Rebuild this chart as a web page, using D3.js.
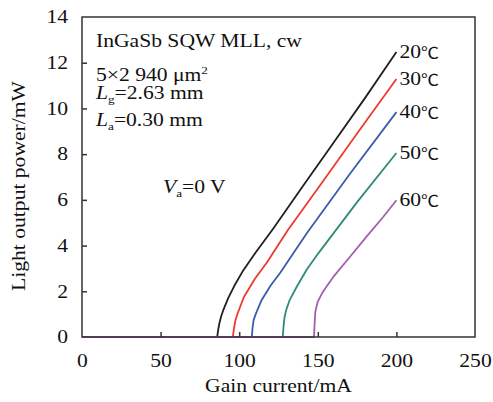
<!DOCTYPE html>
<html><head><meta charset="utf-8">
<script src="https://cdn.jsdelivr.net/npm/d3@7"></script>
<style>
body{margin:0;background:#fff}
text{font-family:"Liberation Serif","Times New Roman",serif;fill:#111}
</style></head>
<body><svg id="c" width="493" height="402"></svg>
<script>
const xTicks=[0,50,100,150,200,250];
const yTicks=[0,2,4,6,8,10,12,14];
const seriesNames=["20","30","40","50","60"];
const seriesColors=["#231f20","#ec3b2e","#3a5cab","#2e8a79","#a55db3"];
const i20=[0,86,86.6,87.4,88.5,90,93,97,102,110,121.7,140,160,180,200];
const p20=[0,0,0.3,0.6,0.9,1.2,1.7,2.25,2.85,3.65,4.75,6.55,8.5,10.45,12.47];
const i30=[0,96,96.6,97.5,98.8,100.5,103,110,117.5,131,150,175,200];
const p30=[0,0,0.35,0.7,1.0,1.3,1.75,2.55,3.25,4.68,6.5,8.9,11.29];
const i40=[0,108,108.5,109.2,110.5,114.3,120,126,143,170,200];
const p40=[0,0,0.4,0.75,1.0,1.62,2.25,2.8,4.54,7.1,9.84];
const i50=[0,127.7,128.2,128.8,130,132,136.6,143,150.3,162,175,200];
const p50=[0,0,0.45,0.85,1.2,1.6,2.2,2.95,3.66,4.72,5.9,8.05];
const i60=[0,147.6,148,148.4,150,153,156,160,170.5,181,191.7,200];
const p60=[0,0,0.6,1.1,1.55,1.95,2.25,2.64,3.51,4.39,5.26,5.98];
const currents=[i20,i30,i40,i50,i60];
const powers=[p20,p30,p40,p50,p60];

const FS=18, SX=1.2;
const svg=d3.select("#c");
const L=82,R=475,T=17,B=337;
const x=d3.scaleLinear().domain([0,250]).range([L,R]);
const y=d3.scaleLinear().domain([0,14]).range([B,T]);

function txt(px,py,anchor,rot){
  return svg.append("text")
    .attr("transform",`translate(${px},${py})${rot?` rotate(${rot})`:""} scale(${SX},1)`)
    .attr("text-anchor",anchor||"start").attr("font-size",FS);
}

const line=d3.line().x(d=>x(d[0])).y(d=>y(d[1]));
currents.forEach((ci,k)=>{
  const pts=ci.map((c,j)=>[c,powers[k][j]]);
  svg.append("path").attr("d",line(pts)).attr("fill","none")
    .attr("stroke",seriesColors[k]).attr("stroke-width",1.8).attr("stroke-linejoin","round");
  const t=txt(x(200)+3,y(powers[k][powers[k].length-1])+6);
  t.append("tspan").text(seriesNames[k]);
  t.append("tspan").attr("font-family",'"Noto Sans CJK SC",sans-serif').attr("font-size",15).text("℃");
});

svg.append("rect").attr("x",L).attr("y",T).attr("width",R-L).attr("height",B-T)
  .attr("fill","none").attr("stroke","#333").attr("stroke-width",1.5);

const gx=svg.append("g").attr("transform",`translate(0,${B})`)
  .call(d3.axisBottom(x).tickValues(xTicks).tickSizeInner(-5).tickSizeOuter(0).tickPadding(17));
const gy=svg.append("g").attr("transform",`translate(${L},0)`)
  .call(d3.axisLeft(y).tickValues(yTicks).tickSizeInner(-5).tickSizeOuter(0).tickPadding(13));
[gx,gy].forEach(g=>{
  g.select(".domain").remove();
  g.selectAll("line").attr("stroke","#333").attr("stroke-width",1.5);
  g.selectAll("text").attr("font-size",FS).attr("font-family",'"Liberation Serif",serif')
    .attr("fill","#111").attr("transform",`scale(${SX},1)`);
});
gy.selectAll("text").attr("x",-14/SX);
gx.selectAll(".tick").filter(d=>d===0||d===250).select("line").remove();
gy.selectAll(".tick").filter(d=>d===0||d===14).select("line").remove();

txt((L+R)/2,392,"middle").text("Gain current/mA");
txt(25,186,"middle",-90).text("Light output power/mW");

txt(96,47).text("InGaSb SQW MLL, cw");
const t2=txt(96,81);
t2.append("tspan").text("5×2 940 μm");
t2.append("tspan").attr("font-size",11).attr("dy",-7).text("2");
const t3=txt(96,99);
t3.append("tspan").attr("font-style","italic").text("L");
t3.append("tspan").attr("font-size",11).attr("dy",4).text("g");
t3.append("tspan").attr("dy",-4).text("=2.63 mm");
const t4=txt(96,126);
t4.append("tspan").attr("font-style","italic").text("L");
t4.append("tspan").attr("font-size",11).attr("dy",4).text("a");
t4.append("tspan").attr("dy",-4).text("=0.30 mm");
const t5=txt(163,193);
t5.append("tspan").attr("font-style","italic").text("V");
t5.append("tspan").attr("font-size",11).attr("dy",4).text("a");
t5.append("tspan").attr("dy",-4).text("=0 V");
</script></body></html>
